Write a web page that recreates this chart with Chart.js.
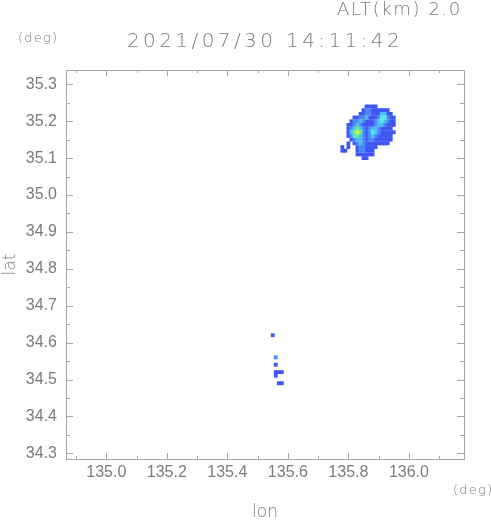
<!DOCTYPE html>
<html>
<head>
<meta charset="utf-8">
<script src="https://cdn.jsdelivr.net/npm/chart.js@4/dist/chart.umd.min.js"></script>
<style>
  html, body { margin: 0; background: #fff; }
  #wrap { width: 491px; height: 521px; }
</style>
</head>
<body>
<div id="wrap"><canvas id="c" width="491" height="521"></canvas></div>
<script>
const TITLE = '2021/07/30 14:11:42'
const ALT_LABEL = 'ALT(km) 2.0'
const UNIT = '(deg)'
const X_LABEL = 'lon'
const Y_LABEL = 'lat'

const LON_RANGE = [134.867, 136.182]
const LAT_RANGE = [34.2846, 35.3388]

// echo cells on a 0.01 deg grid, one string per row from north to south
// '.' = no echo, 1..6 = intensity level
const CELL = 0.01
const NORTH_ORIGIN = [135.76, 35.24]
const NORTH_ROWS = [
  '..........1111......',
  '.........122111111..',
  '........11221113311.',
  '......11223111244211',
  '.....122321112343211',
  '....1123211112332111',
  '....123532123321111.',
  '....1356521243211111',
  '....124532123211111.',
  '.....12332122111111.',
  '....1.123211111111..',
  '..1.1..1221111......',
  '..11...122111.......',
  '.......111111.......',
  '.........11.........',
]
const SOUTH_ORIGIN = [135.55, 34.62]
const SOUTH_ROWS = [
  '1...',
  '....',
  '....',
  '....',
  '....',
  '....',
  '.2..',
  '....',
  '.1..',
  '....',
  '.111',
  '.1..',
  '....',
  '..11',
]

const LEVEL_COLORS = ['', '#3f56f0', '#4a86f8', '#4fbaf8', '#58e6e0', '#66ee8c', '#cdf24a']
const TEXT = '#7b7b7b'
const FRAME = '#a5a5a5'
const FONT = 'Liberation Sans'
const HEAD_FONT = 'DejaVu Sans'

function toCells(origin, rows) {
  const out = []
  rows.forEach((row, r) => {
    ;[...row].forEach((ch, c) => {
      if (ch === '.') return
      out.push({ x: origin[0] + c * CELL, y: origin[1] - r * CELL, v: +ch })
    })
  })
  return out
}

const cells = [...toCells(NORTH_ORIGIN, NORTH_ROWS), ...toCells(SOUTH_ORIGIN, SOUTH_ROWS)]
  .sort((a, b) => a.v - b.v)

// frame with inward ticks on all four sides, plus header / unit texts
const frameAndLabels = {
  id: 'frameAndLabels',
  afterDraw(chart) {
    const { ctx, chartArea: a, scales: { x, y } } = chart
    ctx.save()
    ctx.strokeStyle = FRAME
    ctx.lineWidth = 1
    ctx.strokeRect(a.left + 0.5, a.top + 0.5, a.right - a.left, a.bottom - a.top)
    ctx.beginPath()
    x.ticks.forEach(t => {
      const px = Math.round(x.getPixelForValue(t.value)) + 0.5
      const len = t.label ? 6 : 3
      ctx.moveTo(px, a.top); ctx.lineTo(px, a.top + len)
      ctx.moveTo(px, a.bottom); ctx.lineTo(px, a.bottom - len)
    })
    y.ticks.forEach(t => {
      const py = Math.round(y.getPixelForValue(t.value)) + 0.5
      const len = t.label ? 7 : 4
      ctx.moveTo(a.left, py); ctx.lineTo(a.left + len, py)
      ctx.moveTo(a.right, py); ctx.lineTo(a.right - len, py)
    })
    ctx.stroke()

    ctx.fillStyle = TEXT
    ctx.textBaseline = 'alphabetic'
    ctx.textAlign = 'left'
    ctx.font = `200 20px "${HEAD_FONT}"`
    ctx.letterSpacing = '3.4px'
    ctx.fillText(TITLE, 127, 47)
    ctx.font = `200 18px "${HEAD_FONT}"`
    ctx.letterSpacing = '1.6px'
    ctx.fillText(ALT_LABEL, 337, 15)
    ctx.font = `200 13px "${HEAD_FONT}"`
    ctx.letterSpacing = '1.2px'
    ctx.fillText(UNIT, 18, 42)
    ctx.fillText(UNIT, 453, 494)
    ctx.restore()
  },
}

new Chart(document.getElementById('c'), {
  type: 'scatter',
  data: {
    datasets: [{
      data: cells,
      pointStyle: 'rect',
      pointRadius: 2.7,
      borderWidth: 0,
      backgroundColor: c => LEVEL_COLORS[c.raw ? c.raw.v : 1],
    }],
  },
  options: {
    responsive: false,
    animation: false,
    events: [],
    layout: { padding: { top: 70, right: 27, left: 0, bottom: 0 } },
    plugins: { legend: { display: false }, tooltip: { enabled: false } },
    scales: {
      x: {
        type: 'linear',
        min: LON_RANGE[0],
        max: LON_RANGE[1],
        grid: { display: false, drawTicks: false },
        border: { display: false },
        afterFit: s => { s.height = 62 },
        ticks: {
          stepSize: 0.1,
          includeBounds: false,
          autoSkip: false,
          maxRotation: 0,
          padding: 4,
          color: TEXT,
          font: { family: FONT, size: 16 },
          callback: v => Math.round(v * 10) % 2 === 0 ? v.toFixed(1) : '',
        },
        title: {
          display: true,
          text: X_LABEL,
          color: TEXT,
          padding: 0,
          font: { family: HEAD_FONT, weight: 200, size: 17, lineHeight: 1 },
        },
      },
      y: {
        type: 'linear',
        min: LAT_RANGE[0],
        max: LAT_RANGE[1],
        grid: { display: false, drawTicks: false },
        border: { display: false },
        afterFit: s => { s.width = 66 },
        ticks: {
          stepSize: 0.05,
          includeBounds: false,
          autoSkip: false,
          padding: 9,
          color: TEXT,
          font: { family: FONT, size: 16 },
          callback: v => Math.round(v * 20) % 2 === 0 ? v.toFixed(1) : '',
        },
        title: {
          display: true,
          text: Y_LABEL,
          color: TEXT,
          padding: 0,
          font: { family: HEAD_FONT, weight: 200, size: 17 },
        },
      },
    },
  },
  plugins: [frameAndLabels],
})
</script>
</body>
</html>
